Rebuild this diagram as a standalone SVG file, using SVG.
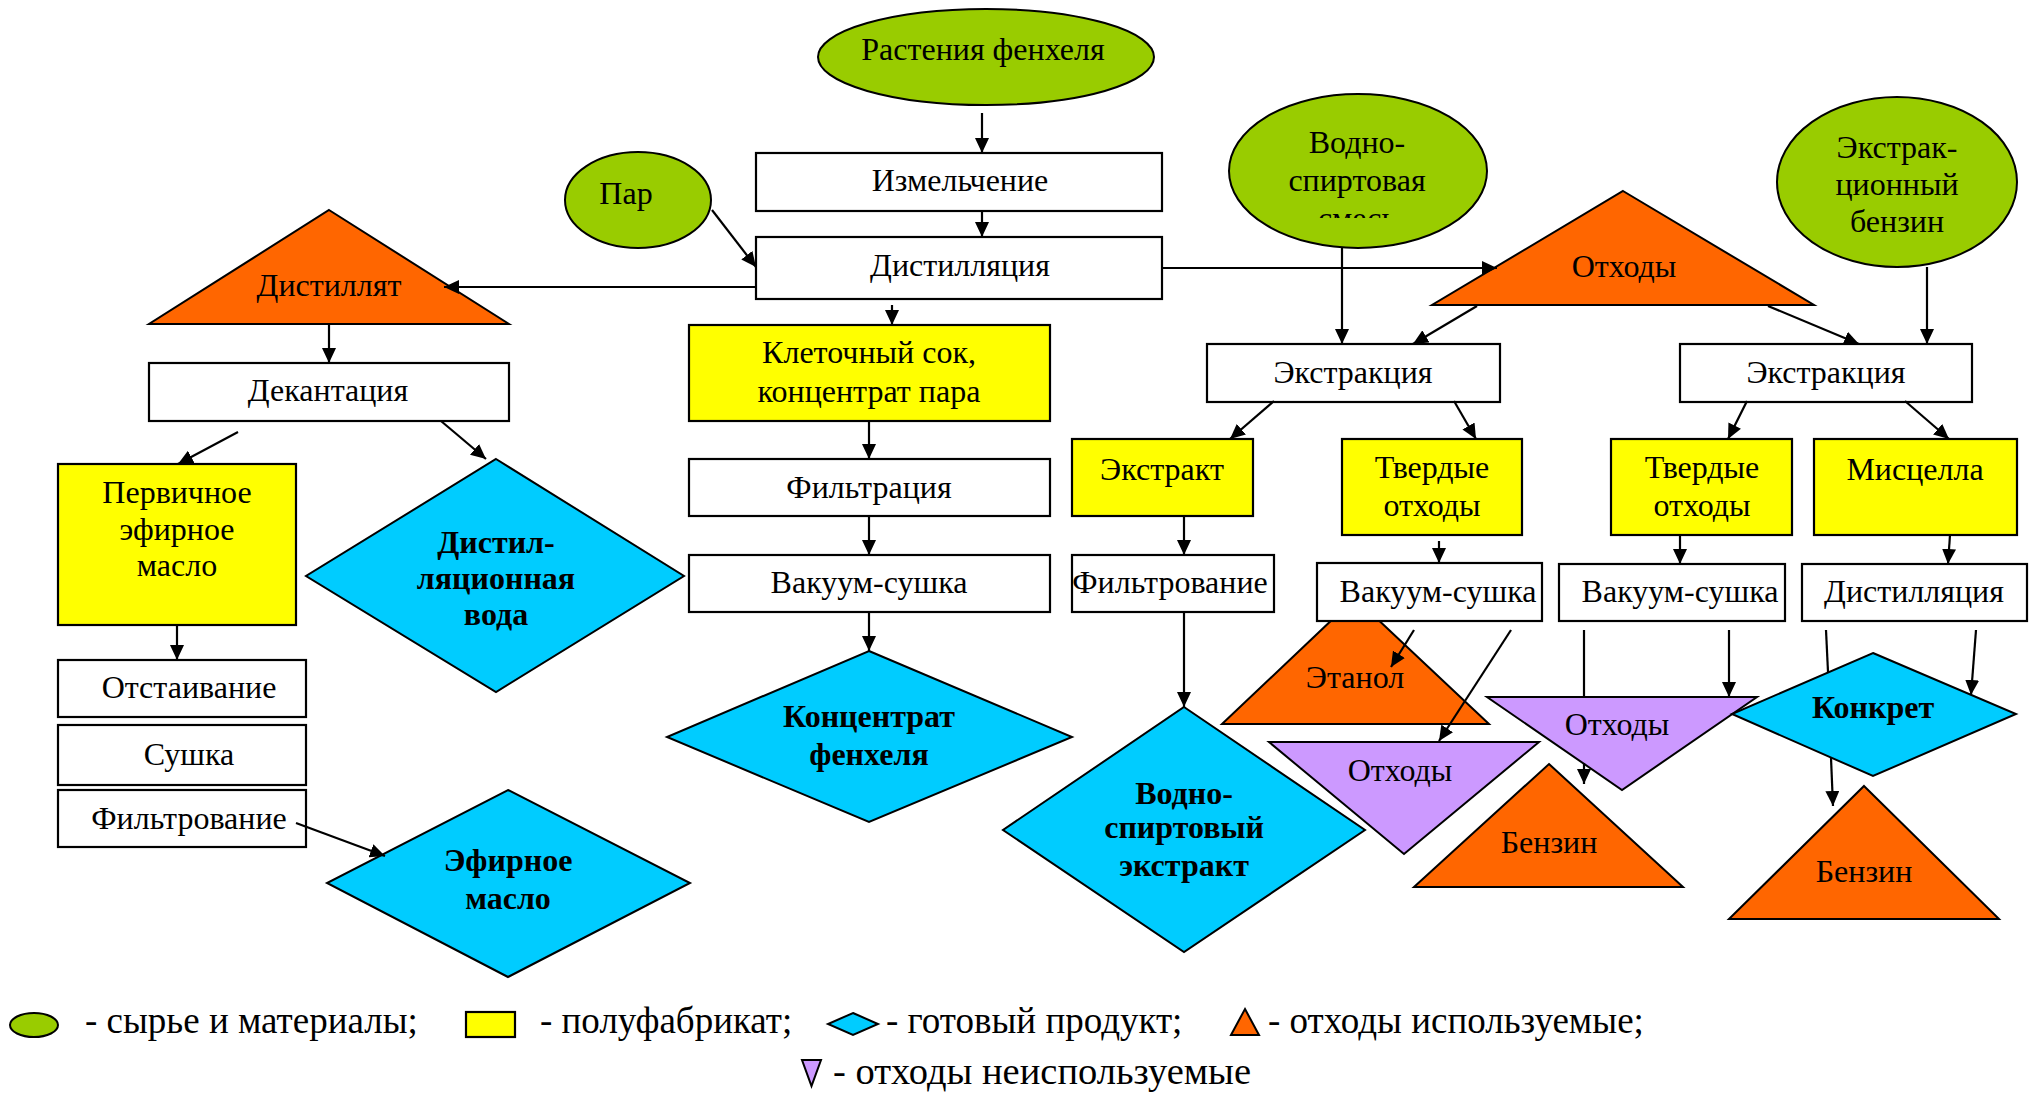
<svg xmlns="http://www.w3.org/2000/svg" width="2042" height="1096" viewBox="0 0 2042 1096">
  <defs>
    <marker id="arrow" markerUnits="userSpaceOnUse" markerWidth="15" markerHeight="14" refX="15" refY="7" orient="auto">
      <path d="M0,0 L15,7 L0,14 z" fill="#000"/>
    </marker>
    <clipPath id="clip-mix">
      <rect x="1220" y="90" width="280" height="128"/>
    </clipPath>
    <style>
      text { font-family: "Liberation Serif", "Times New Roman", serif; font-size: 32px; fill: #000; text-anchor: middle; }
      .b { font-weight: bold; }
      .raw { fill: #99CC00; stroke: #000; stroke-width: 2; }
      .semi { fill: #FFFF00; stroke: #000; stroke-width: 2.2; }
      .proc { fill: #FFFFFF; stroke: #000; stroke-width: 2.2; }
      .prod { fill: #00CCFF; stroke: #000; stroke-width: 2; }
      .used { fill: #FF6600; stroke: #000; stroke-width: 2; }
      .unused { fill: #CC99FF; stroke: #000; stroke-width: 2; }
      .edge { fill: none; stroke: #000; stroke-width: 2.2; }
      .legend text { font-size: 37px; text-anchor: start; }
      .legend text.wide { font-size: 38.5px; }
    </style>
  </defs>

  <rect width="2042" height="1096" fill="#FFFFFF"/>

  <!-- central column -->
  <g id="plants">
    <ellipse class="raw" cx="986" cy="57" rx="168" ry="48"/>
    <text x="983" y="60">Растения фенхеля</text>
  </g>
  <g id="grinding">
    <rect class="proc" x="756" y="153" width="406" height="58"/>
    <text x="960" y="191">Измельчение</text>
  </g>
  <g id="steam">
    <ellipse class="raw" cx="638" cy="200" rx="73" ry="48"/>
    <text x="626" y="204">Пар</text>
  </g>
  <g id="distillation">
    <rect class="proc" x="756" y="237" width="406" height="62"/>
    <text x="960" y="276">Дистилляция</text>
  </g>
  <g id="cell-juice">
    <rect class="semi" x="689" y="325" width="361" height="96"/>
    <text x="869" y="363">Клеточный сок,</text>
    <text x="869" y="402">концентрат пара</text>
  </g>
  <g id="filtration">
    <rect class="proc" x="689" y="459" width="361" height="57"/>
    <text x="869" y="498">Фильтрация</text>
  </g>
  <g id="vacuum-drying-1">
    <rect class="proc" x="689" y="555" width="361" height="57"/>
    <text x="869" y="593">Вакуум-сушка</text>
  </g>
  <g id="fennel-concentrate">
    <polygon class="prod" points="869,651 1072,737 869,822 667,737"/>
    <text class="b" x="869" y="727">Концентрат</text>
    <text class="b" x="869" y="765">фенхеля</text>
  </g>

  <!-- distillate branch -->
  <g id="distillate">
    <polygon class="used" points="329,210 509,324 149,324"/>
    <text x="329" y="296">Дистиллят</text>
  </g>
  <g id="decantation">
    <rect class="proc" x="149" y="363" width="360" height="58"/>
    <text x="328" y="401">Декантация</text>
  </g>
  <g id="primary-oil">
    <rect class="semi" x="58" y="464" width="238" height="161"/>
    <text x="177" y="503">Первичное</text>
    <text x="177" y="540">эфирное</text>
    <text x="177" y="576">масло</text>
  </g>
  <g id="distillation-water">
    <polygon class="prod" points="496,459 684,576 496,692 306,576"/>
    <text class="b" x="496" y="553">Дистил-</text>
    <text class="b" x="496" y="589">ляционная</text>
    <text class="b" x="496" y="625">вода</text>
  </g>
  <g id="settling">
    <rect class="proc" x="58" y="660" width="248" height="57"/>
    <text x="189" y="698">Отстаивание</text>
  </g>
  <g id="drying">
    <rect class="proc" x="58" y="725" width="248" height="60"/>
    <text x="189" y="765">Сушка</text>
  </g>
  <g id="filtering-oil">
    <rect class="proc" x="58" y="790" width="248" height="57"/>
    <text x="189" y="829">Фильтрование</text>
  </g>
  <g id="essential-oil">
    <polygon class="prod" points="508,790 690,883 508,977 327,883"/>
    <text class="b" x="508" y="871">Эфирное</text>
    <text class="b" x="508" y="909">масло</text>
  </g>

  <!-- extraction inputs -->
  <g id="water-alcohol-mix">
    <ellipse class="raw" cx="1358" cy="171" rx="129" ry="77"/>
    <text x="1357" y="153">Водно-</text>
    <text x="1357" y="191">спиртовая</text>
    <text x="1357" y="229" clip-path="url(#clip-mix)">смесь</text>
  </g>
  <g id="waste-main">
    <polygon class="used" points="1623,191 1814,305 1432,305"/>
    <text x="1624" y="277">Отходы</text>
  </g>
  <g id="extraction-benzine">
    <ellipse class="raw" cx="1897" cy="182" rx="120" ry="85"/>
    <text x="1897" y="158">Экстрак-</text>
    <text x="1897" y="195">ционный</text>
    <text x="1897" y="232">бензин</text>
  </g>

  <!-- water-alcohol extraction -->
  <g id="extraction-1">
    <rect class="proc" x="1207" y="344" width="293" height="58"/>
    <text x="1353" y="383">Экстракция</text>
  </g>
  <g id="extract">
    <rect class="semi" x="1072" y="439" width="181" height="77"/>
    <text x="1162" y="480">Экстракт</text>
  </g>
  <g id="filtering-extract">
    <rect class="proc" x="1072" y="555" width="202" height="57"/>
    <text x="1170" y="593">Фильтрование</text>
  </g>
  <g id="water-alcohol-extract">
    <polygon class="prod" points="1184,707 1365,830 1184,952 1003,830"/>
    <text class="b" x="1184" y="804">Водно-</text>
    <text class="b" x="1184" y="838">спиртовый</text>
    <text class="b" x="1184" y="876">экстракт</text>
  </g>
  <g id="solid-waste-1">
    <rect class="semi" x="1342" y="439" width="180" height="96"/>
    <text x="1432" y="478">Твердые</text>
    <text x="1432" y="516">отходы</text>
  </g>
  <g id="ethanol">
    <polygon class="used" points="1355,598 1489,724 1222,724"/>
    <text x="1355" y="688">Этанол</text>
  </g>
  <g id="vacuum-drying-2">
    <rect class="proc" x="1317" y="563" width="225" height="58"/>
    <text x="1438" y="602">Вакуум-сушка</text>
  </g>
  <g id="waste-unused-1">
    <polygon class="unused" points="1269,742 1539,742 1404,854"/>
    <text x="1400" y="781">Отходы</text>
  </g>

  <!-- benzine extraction -->
  <g id="extraction-2">
    <rect class="proc" x="1680" y="344" width="292" height="58"/>
    <text x="1826" y="383">Экстракция</text>
  </g>
  <g id="solid-waste-2">
    <rect class="semi" x="1611" y="439" width="181" height="96"/>
    <text x="1702" y="478">Твердые</text>
    <text x="1702" y="516">отходы</text>
  </g>
  <g id="miscella">
    <rect class="semi" x="1814" y="439" width="203" height="96"/>
    <text x="1915" y="480">Мисцелла</text>
  </g>
  <g id="vacuum-drying-3">
    <rect class="proc" x="1559" y="564" width="226" height="57"/>
    <text x="1680" y="602">Вакуум-сушка</text>
  </g>
  <g id="distillation-2">
    <rect class="proc" x="1802" y="564" width="225" height="57"/>
    <text x="1914" y="602">Дистилляция</text>
  </g>
  <g id="waste-unused-2">
    <polygon class="unused" points="1487,697 1757,697 1622,790"/>
    <text x="1617" y="735">Отходы</text>
  </g>
  <g id="benzine-1">
    <polygon class="used" points="1549,764 1683,887 1414,887"/>
    <text x="1549" y="853">Бензин</text>
  </g>
  <g id="concrete">
    <polygon class="prod" points="1873,653 2016,714 1873,776 1732,714"/>
    <text class="b" x="1873" y="718">Конкрет</text>
  </g>
  <g id="benzine-2">
    <polygon class="used" points="1864,786 1999,919 1729,919"/>
    <text x="1864" y="882">Бензин</text>
  </g>

  <!-- connectors -->
  <g id="connectors">
    <line class="edge" x1="982" y1="113" x2="982" y2="153" marker-end="url(#arrow)"/>
    <line class="edge" x1="982" y1="211" x2="982" y2="237" marker-end="url(#arrow)"/>
    <line class="edge" x1="712" y1="210" x2="756" y2="267" marker-end="url(#arrow)"/>
    <line class="edge" x1="756" y1="287" x2="444" y2="287" marker-end="url(#arrow)"/>
    <line class="edge" x1="892" y1="305" x2="892" y2="325" marker-end="url(#arrow)"/>
    <line class="edge" x1="869" y1="421" x2="869" y2="459" marker-end="url(#arrow)"/>
    <line class="edge" x1="869" y1="516" x2="869" y2="555" marker-end="url(#arrow)"/>
    <line class="edge" x1="869" y1="612" x2="869" y2="651" marker-end="url(#arrow)"/>

    <line class="edge" x1="329" y1="324" x2="329" y2="363" marker-end="url(#arrow)"/>
    <line class="edge" x1="238" y1="432" x2="178" y2="464" marker-end="url(#arrow)"/>
    <line class="edge" x1="441" y1="421" x2="486" y2="459" marker-end="url(#arrow)"/>
    <line class="edge" x1="177" y1="625" x2="177" y2="660" marker-end="url(#arrow)"/>
    <line class="edge" x1="296" y1="823" x2="385" y2="856" marker-end="url(#arrow)"/>

    <line class="edge" x1="1162" y1="268" x2="1497" y2="268" marker-end="url(#arrow)"/>
    <line class="edge" x1="1342" y1="248" x2="1342" y2="344" marker-end="url(#arrow)"/>
    <line class="edge" x1="1477" y1="306" x2="1413" y2="344" marker-end="url(#arrow)"/>
    <line class="edge" x1="1768" y1="306" x2="1859" y2="344" marker-end="url(#arrow)"/>
    <line class="edge" x1="1927" y1="267" x2="1927" y2="344" marker-end="url(#arrow)"/>

    <line class="edge" x1="1274" y1="401" x2="1230" y2="439" marker-end="url(#arrow)"/>
    <line class="edge" x1="1454" y1="401" x2="1476" y2="439" marker-end="url(#arrow)"/>
    <line class="edge" x1="1184" y1="516" x2="1184" y2="555" marker-end="url(#arrow)"/>
    <line class="edge" x1="1184" y1="612" x2="1184" y2="707" marker-end="url(#arrow)"/>
    <line class="edge" x1="1439" y1="541" x2="1439" y2="563" marker-end="url(#arrow)"/>
    <line class="edge" x1="1414" y1="630" x2="1391" y2="667" marker-end="url(#arrow)"/>
    <line class="edge" x1="1511" y1="630" x2="1439" y2="741" marker-end="url(#arrow)"/>

    <line class="edge" x1="1747" y1="401" x2="1728" y2="439" marker-end="url(#arrow)"/>
    <line class="edge" x1="1905" y1="401" x2="1949" y2="439" marker-end="url(#arrow)"/>
    <line class="edge" x1="1680" y1="535" x2="1680" y2="564" marker-end="url(#arrow)"/>
    <line class="edge" x1="1950" y1="535" x2="1948" y2="564" marker-end="url(#arrow)"/>
    <line class="edge" x1="1584" y1="630" x2="1584" y2="697"/>
    <line class="edge" x1="1584" y1="763" x2="1584" y2="784" marker-end="url(#arrow)"/>
    <line class="edge" x1="1729" y1="630" x2="1729" y2="697" marker-end="url(#arrow)"/>
    <line class="edge" x1="1826" y1="630" x2="1828" y2="672"/>
    <line class="edge" x1="1831" y1="758" x2="1833" y2="806" marker-end="url(#arrow)"/>
    <line class="edge" x1="1976" y1="630" x2="1971" y2="695" marker-end="url(#arrow)"/>
  </g>

  <!-- legend -->
  <g id="legend" class="legend">
    <ellipse class="raw" cx="34" cy="1025" rx="24" ry="12"/>
    <text x="85" y="1033">- сырье и материалы;</text>
    <rect class="semi" x="466" y="1012" width="49" height="25"/>
    <text x="540" y="1033">- полуфабрикат;</text>
    <polygon class="prod" points="853,1013 878,1024 853,1035 828,1024"/>
    <text x="886" y="1033">- готовый продукт;</text>
    <polygon class="used" points="1245,1009 1259,1035 1231,1035"/>
    <text x="1268" y="1033">- отходы используемые;</text>
    <polygon class="unused" points="802,1060 821,1060 811.5,1086"/>
    <text class="wide" x="833" y="1084">- отходы неиспользуемые</text>
  </g>
</svg>
